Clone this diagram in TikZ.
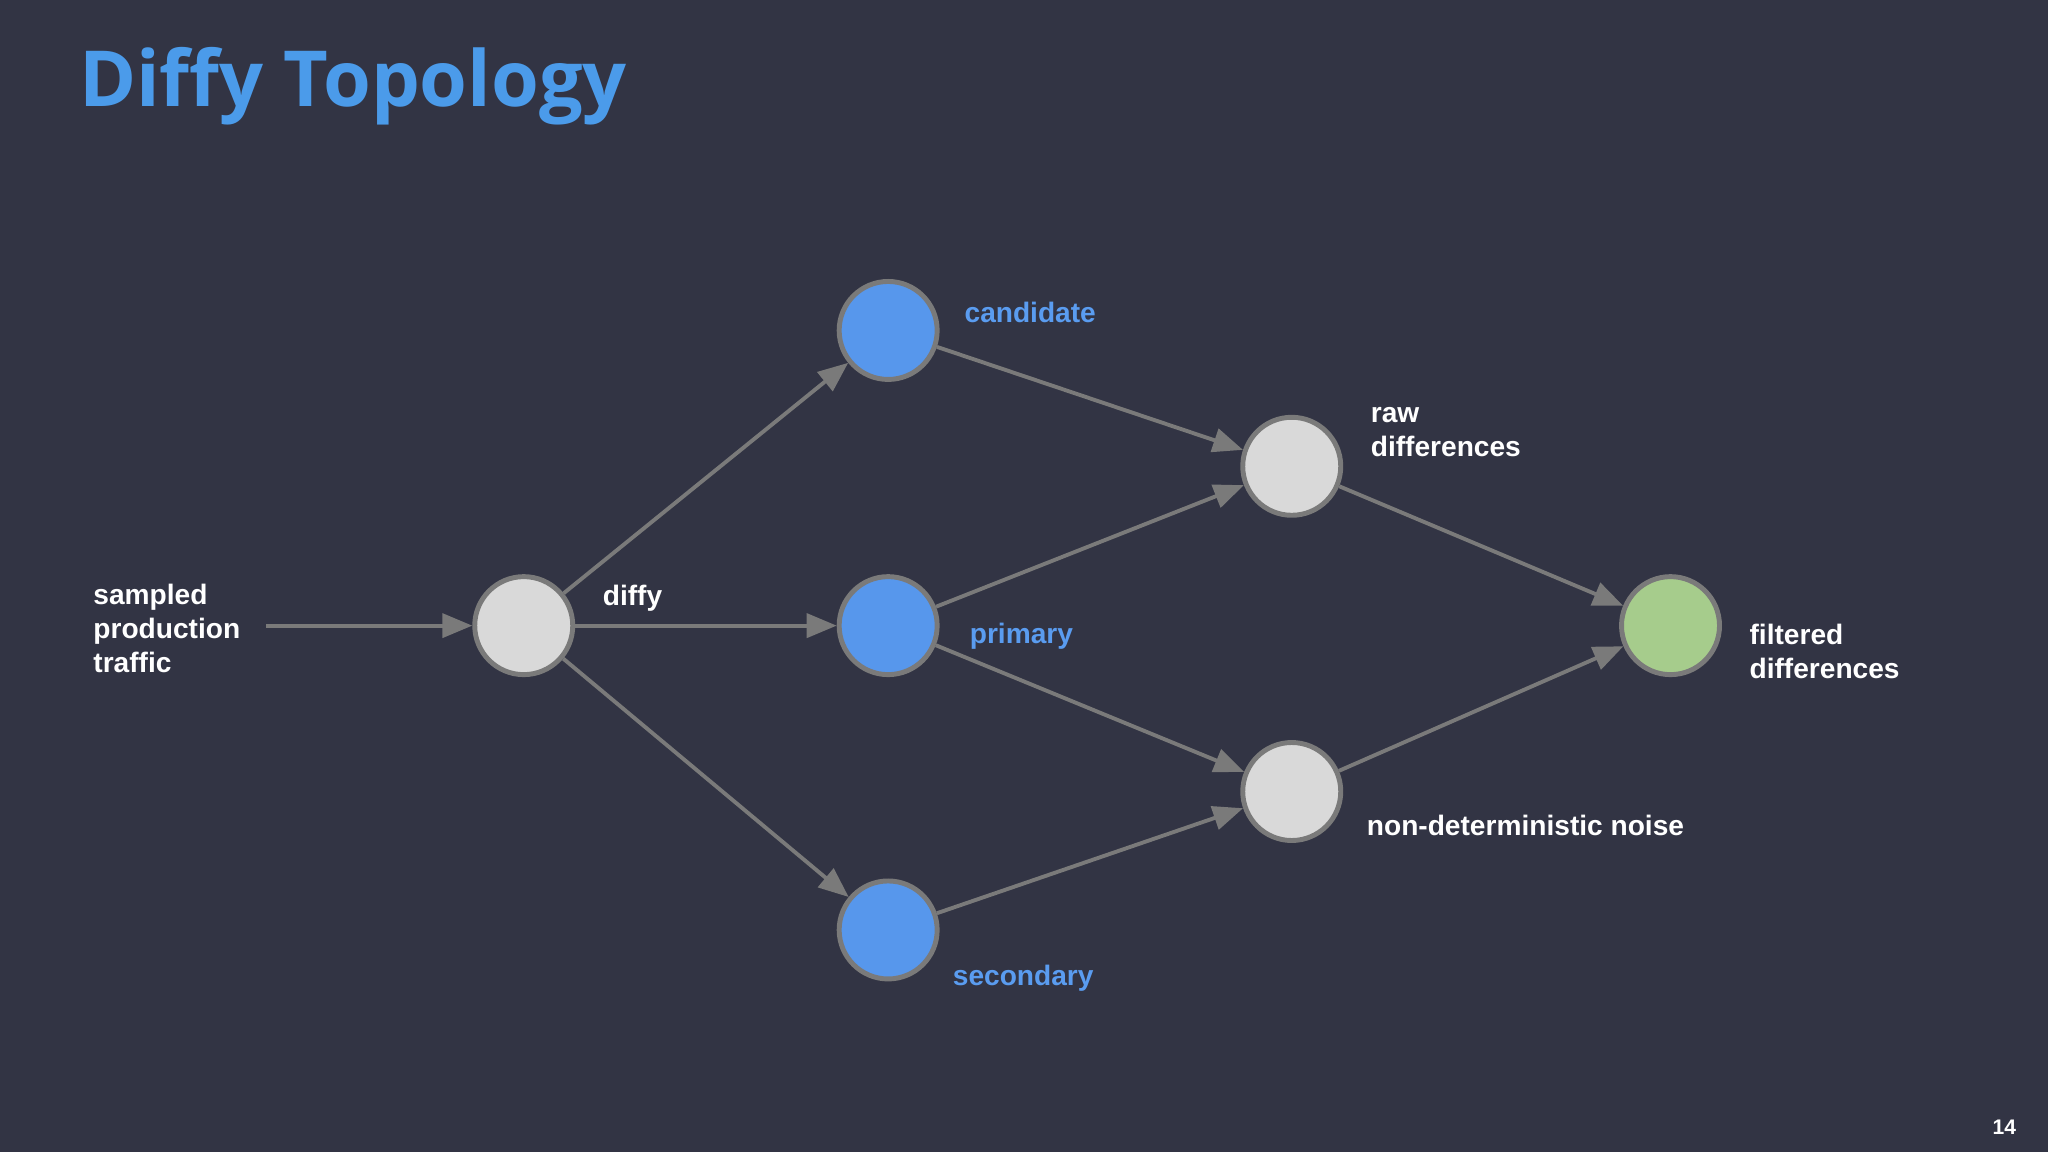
\documentclass[tikz,border=0pt]{standalone}
\usepackage{fontspec}
\setmainfont{Liberation Sans}
\newfontfamily\titlefont{Open Sans}
\usetikzlibrary{arrows.meta}
\definecolor{bg}{HTML}{323444}
\definecolor{edge}{HTML}{7A7A7A}
\definecolor{bluefill}{HTML}{5797EC}
\definecolor{bluetxt}{HTML}{5A9CF0}
\definecolor{greenfill}{HTML}{A6CC8C}
\definecolor{grayfill}{HTML}{D9D9D9}
\definecolor{titleblue}{HTML}{4B9BEA}
\tikzset{
  dot/.style={circle,draw=edge,line width=1.4pt,minimum size=0.98cm,inner sep=0pt},
  gdot/.style={dot,fill=grayfill},
  bdot/.style={dot,fill=bluefill},
  ndot/.style={dot,fill=greenfill},
  conn/.style={draw=edge,line width=1.1pt,-{Triangle[length=0.3cm,width=0.24cm]}},
  wlab/.style={text=white,font=\bfseries\fontsize{8}{9.6}\selectfont,align=left,anchor=west,inner sep=0pt},
  blab/.style={wlab,text=bluetxt}
}
\begin{document}
\begin{tikzpicture}[x=0.01306cm,y=-0.01306cm]
\fill[bg] (0,0) rectangle (1568,882);
\useasboundingbox (0,0) rectangle (1568,882);
\node[anchor=west,inner sep=0pt,text=titleblue,font=\titlefont\bfseries\fontsize{22}{26}\selectfont] (title) at (60,66) {Diffy Topology};
\node[gdot] (diffy) at (401,479) {};
\node[bdot] (cand) at (680,253) {};
\node[bdot] (prim) at (680,479) {};
\node[bdot] (sec) at (680,712) {};
\node[gdot] (raw) at (989,357) {};
\node[gdot] (noise) at (989,606) {};
\node[ndot] (filt) at (1279,479) {};
\coordinate (src) at (204,479);
\draw[conn] (src) -- (diffy);
\draw[conn] (diffy) -- (cand);
\draw[conn] (diffy) -- (prim);
\draw[conn] (diffy) -- (sec);
\draw[conn] (cand) -- (raw);
\draw[conn] (prim) -- (raw);
\draw[conn] (prim) -- (noise);
\draw[conn] (sec) -- (noise);
\draw[conn] (raw) -- (filt);
\draw[conn] (noise) -- (filt);
\node[wlab] (lsrc) at (71,481) {sampled\\production\\traffic};
\node[wlab] (ldiffy) at (461,458) {diffy};
\node[blab] (lcand) at (738,239) {candidate};
\node[blab] (lprim) at (742,487) {primary};
\node[blab] (lsec) at (729,749) {secondary};
\node[wlab] (lraw) at (1049,331) {raw\\differences};
\node[wlab] (lfilt) at (1339,499) {filtered\\differences};
\node[wlab] (lnoise) at (1046,632) {non-deterministic noise};
\node[wlab,font=\bfseries\fontsize{6}{7}\selectfont] (pg) at (1525,863) {14};
\end{tikzpicture}
\end{document}
